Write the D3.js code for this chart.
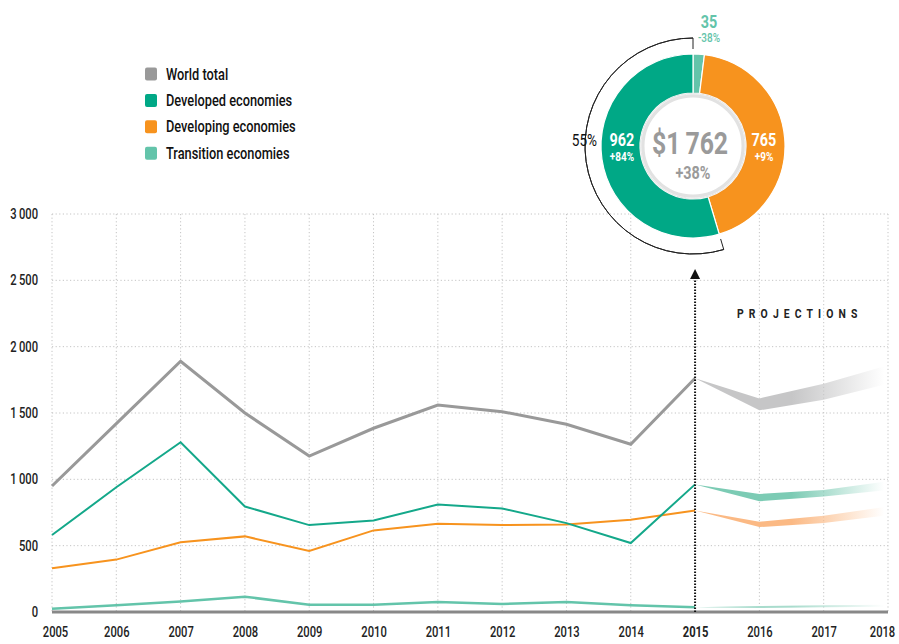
<!DOCTYPE html>
<html>
<head>
<meta charset="utf-8">
<script src="https://cdnjs.cloudflare.com/ajax/libs/d3/7.8.5/d3.min.js"></script>
<style>
  body { margin: 0; background: #fff; }
  svg text { font-family: "Roboto", "Liberation Sans", sans-serif; }
</style>
</head>
<body>
<script>
// historical data, 2005-2015
const histYears = [2005, 2006, 2007, 2008, 2009, 2010, 2011, 2012, 2013, 2014, 2015];
const world      = [950, 1420, 1890, 1500, 1175, 1385, 1560, 1510, 1415, 1265, 1762];
const developed  = [580, 940, 1280, 795, 655, 690, 810, 780, 670, 520, 962];
const developing = [330, 395, 525, 570, 460, 615, 665, 655, 660, 695, 765];
const transition = [25, 50, 80, 115, 55, 55, 75, 60, 75, 50, 35];

// projections, 2015-2018 (low / high)
const projYears = [2015, 2016, 2017, 2018];
const worldLow  = [1762, 1520, 1600, 1720];
const worldHigh = [1762, 1610, 1720, 1860];
const devLow    = [962, 835, 870, 920];
const devHigh   = [962, 890, 920, 985];
const dvgLow    = [765, 640, 670, 730];
const dvgHigh   = [765, 680, 725, 795];
const trLow     = [35, 30, 35, 40];
const trHigh    = [35, 45, 50, 55];

const allYears = [2005, 2006, 2007, 2008, 2009, 2010, 2011, 2012, 2013, 2014, 2015, 2016, 2017, 2018];
const yTicks = [0, 500, 1000, 1500, 2000, 2500, 3000];

// 2015 breakdown for the donut
const donutLabels = ["Transition economies", "Developing economies", "Developed economies"];
const donutValues = [35, 765, 962];
const donutChanges = ["-38%", "+9%", "+84%"];
const donutTotal = 1762;
const donutTotalChange = "+38%";

const legendNames = ["World total", "Developed economies", "Developing economies", "Transition economies"];
const colors = {
  world: "#999999", developed: "#14a88a", developing: "#f7931e", transition: "#63c4aa"
};
const legendColors = ["#999999", "#00a886", "#f7931e", "#63c4aa"];
const bandColors = ["#c6c6c7", "#7ccbb4", "#fbb984", "#a9dccd"];

const W = 899, H = 644;
const K = 0.8; // horizontal squeeze to mimic a condensed face

// turn x/y of a text into a translate + horizontal squeeze
function narrow(sel) {
  sel.each(function() {
    const t = d3.select(this);
    const tx = +t.attr("x") || 0, ty = +t.attr("y") || 0;
    t.attr("x", 0).attr("y", 0).attr("transform", `translate(${tx},${ty}) scale(${K},1)`);
  });
}

const svg = d3.select("body").append("svg").attr("width", W).attr("height", H);

const x = d3.scaleLinear().domain([2005, 2018]).range([52, 888]);
const y = d3.scaleLinear().domain([0, 3000]).range([612, 214]);

// grid
const grid = svg.append("g");
grid.selectAll(".vg").data(allYears.filter(d => d !== 2015)).enter().append("line")
  .attr("x1", d => x(d)).attr("x2", d => x(d))
  .attr("y1", y(3000)).attr("y2", y(0))
  .attr("stroke", "#c4c4c4").attr("stroke-width", 1).attr("stroke-dasharray", "1.2,2.4");
grid.selectAll(".hg").data(yTicks.filter(d => d > 0)).enter().append("line")
  .attr("x1", x(2005)).attr("x2", x(2018))
  .attr("y1", d => y(d)).attr("y2", d => y(d))
  .attr("stroke", "#c4c4c4").attr("stroke-width", 1).attr("stroke-dasharray", "1.2,2.4");

// y axis labels
const yAxis = d3.axisLeft(y).tickValues(yTicks).tickSize(0).tickPadding(14)
  .tickFormat(d => d3.format(",")(d).replace(",", "\u2009"));
svg.append("g").attr("transform", `translate(${x(2005)},0)`).call(yAxis)
  .call(g => g.select(".domain").remove())
  .selectAll("text").attr("font-size", 14).attr("fill", "#222").attr("font-weight", 500)
  .attr("font-family", "Roboto, sans-serif").call(narrow);

// x axis labels
const xAxis = d3.axisBottom(x).tickValues(allYears).tickSize(0).tickPadding(15).tickFormat(d3.format("d"));
svg.append("g").attr("transform", `translate(0,${y(0)})`).call(xAxis)
  .call(g => g.select(".domain").remove())
  .selectAll("text").attr("font-size", 14).attr("fill", "#222")
  .attr("font-family", "Roboto, sans-serif")
  .attr("font-weight", d => d === 2015 ? "bold" : 500)
  .attr("x", d => d === 2005 ? 3 : d === 2018 ? -6 : 0)
  .call(narrow);

// projection bands with fading gradient
const defs = svg.append("defs");
bandColors.forEach((c, i) => {
  const g = defs.append("linearGradient").attr("id", "fade" + i)
    .attr("gradientUnits", "userSpaceOnUse")
    .attr("x1", x(2015)).attr("x2", x(2018)).attr("y1", 0).attr("y2", 0);
  g.append("stop").attr("offset", 0).attr("stop-color", c).attr("stop-opacity", 1);
  g.append("stop").attr("offset", 0.5).attr("stop-color", c).attr("stop-opacity", 1);
  g.append("stop").attr("offset", 0.98).attr("stop-color", c).attr("stop-opacity", 0);
});
const bands = [[worldLow, worldHigh], [devLow, devHigh], [dvgLow, dvgHigh], [trLow, trHigh]];
const area = d3.area().x(d => x(d.year)).y0(d => y(d.lo)).y1(d => y(d.hi));
bands.forEach((b, i) => {
  const rows = projYears.map((yr, j) => ({ year: yr, lo: b[0][j], hi: b[1][j] }));
  svg.append("path").datum(rows).attr("d", area).attr("fill", `url(#fade${i})`);
});

// baseline
svg.append("line").attr("x1", x(2005)).attr("x2", x(2018)).attr("y1", y(0)).attr("y2", y(0))
  .attr("stroke", "#888").attr("stroke-width", 3);

// lines
const line = d3.line().x((d, i) => x(histYears[i])).y(d => y(d));
const series = [
  [transition, colors.transition, 2.5],
  [developing, colors.developing, 2],
  [developed, colors.developed, 2],
  [world, colors.world, 3]
];
series.forEach(s => {
  svg.append("path").datum(s[0]).attr("d", line).attr("fill", "none")
    .attr("stroke", s[1]).attr("stroke-width", s[2]).attr("stroke-linejoin", "miter");
});

// 2015 marker line with arrow
svg.append("line").attr("x1", x(2015)).attr("x2", x(2015)).attr("y1", y(0)).attr("y2", 278)
  .attr("stroke", "#111").attr("stroke-width", 2).attr("stroke-dasharray", "1.5,1.5");
svg.append("path")
  .attr("d", `M${x(2015) - 5},279 L${x(2015) + 5},279 L${x(2015)},269 Z`).attr("fill", "#111");

svg.append("text").attr("x", 737).attr("y", 318)
  .attr("font-size", 13).attr("font-weight", "bold").attr("letter-spacing", 6.4).attr("fill", "#222")
  .text("PROJECTIONS").call(narrow);

// legend
const legend = svg.append("g").attr("transform", "translate(145,74)");
legendNames.forEach((n, i) => {
  const row = legend.append("g").attr("transform", `translate(0,${i * 26.4})`);
  row.append("rect").attr("x", 0).attr("y", -6.5).attr("width", 12).attr("height", 13).attr("rx", 2)
    .attr("fill", legendColors[i]);
  row.append("text").attr("x", 21).attr("y", 5.5).attr("font-size", 16).attr("font-weight", 500)
    .attr("fill", "#111").text(n).call(narrow);
});

// donut
const cx = 693, cy = 146;
const dg = svg.append("g").attr("transform", `translate(${cx},${cy})`);
const pie = d3.pie().sort(null).startAngle(0).endAngle(2 * Math.PI);
const arcs = pie(donutValues);
const arc = d3.arc().innerRadius(53).outerRadius(92);
const sliceColors = ["#63c4aa", "#f7931e", "#00a886"];
dg.selectAll(".slice").data(arcs).enter().append("path")
  .attr("d", arc).attr("fill", (d, i) => sliceColors[i])
  .attr("stroke", "#fff").attr("stroke-width", 1.2);

const filt = defs.append("filter").attr("id", "shadow").attr("x", "-20%").attr("y", "-20%")
  .attr("width", "140%").attr("height", "140%");
filt.append("feDropShadow").attr("dx", 0).attr("dy", 0).attr("stdDeviation", 1.5)
  .attr("flood-color", "#000").attr("flood-opacity", 0.25);
dg.append("circle").attr("r", 50).attr("fill", "#fff").attr("stroke", "#e2e2e2").attr("stroke-width", 3)
  .attr("filter", "url(#shadow)");

// bracket arc over developed share
const devArc = arcs[2];
const bracket = d3.arc().innerRadius(108).outerRadius(108)
  .startAngle(devArc.startAngle).endAngle(devArc.endAngle);
dg.append("path").attr("d", bracket()).attr("fill", "none").attr("stroke", "#222").attr("stroke-width", 1);
[devArc.startAngle, devArc.endAngle].forEach(a => {
  dg.append("line")
    .attr("x1", 97 * Math.sin(a)).attr("y1", -97 * Math.cos(a))
    .attr("x2", 108 * Math.sin(a)).attr("y2", -108 * Math.cos(a))
    .attr("stroke", "#222").attr("stroke-width", 1);
});
dg.append("text").attr("x", -96).attr("y", 0).attr("text-anchor", "end")
  .attr("font-size", 17).attr("fill", "#111").text(d3.format(".0%")(donutValues[2] / donutTotal))
  .call(narrow);

// slice labels
const sliceText = (tx, ty, size, weight, fill, txt) =>
  dg.append("text").attr("x", tx).attr("y", ty).attr("text-anchor", "middle")
    .attr("font-size", size).attr("font-weight", weight).attr("fill", fill).text(txt).call(narrow);
sliceText(-71, 0, 18, "bold", "#fff", donutValues[2]);
sliceText(-71, 15, 12.5, "bold", "#fff", donutChanges[2]);
sliceText(71, 0, 18, "bold", "#fff", donutValues[1]);
sliceText(71, 15, 12.5, "bold", "#fff", donutChanges[1]);
sliceText(16, -118, 18, "bold", "#63c4aa", donutValues[0]);
sliceText(16, -104, 12.5, 500, "#63c4aa", donutChanges[0]);

// total
sliceText(-3, 8, 31, "bold", "#9a9a9a", "$" + d3.format(",")(donutTotal).replace(",", "\u2009"));
sliceText(0, 33, 18, "bold", "#9a9a9a", donutTotalChange);
</script>
</body>
</html>
